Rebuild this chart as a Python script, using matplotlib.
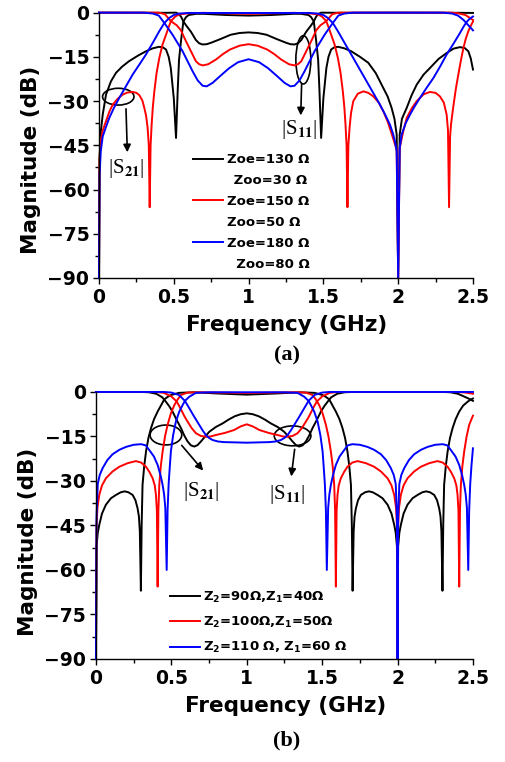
import matplotlib
matplotlib.use('Agg')
import matplotlib.pyplot as plt
from matplotlib.patches import Ellipse
from matplotlib.lines import Line2D
from matplotlib.ticker import MultipleLocator

plt.rcParams['font.family'] = ['DejaVu Sans']
plt.rcParams['font.weight'] = 'bold'
plt.rcParams['mathtext.fontset'] = 'custom'
plt.rcParams['mathtext.rm'] = 'DejaVu Sans:bold'
plt.rcParams['mathtext.bf'] = 'DejaVu Sans:bold'
plt.rcParams['mathtext.it'] = 'DejaVu Sans:bold'

# ---------------- panel (a): Zoe / Zoo ----------------
a_k21_f = [0, .003, .013, .025, .047, .08, .114, .155, .2, .26,
           .314, .36, .40, .425, .448, .466, .48, .50, .515, .526,
           .535, .548, .564, .582, .60, .65, .70, .85, 1.0, 1.15,
           1.30, 1.35, 1.40, 1.418, 1.436, 1.452, 1.465, 1.474, 1.485, 1.50,
           1.52, 1.534, 1.552, 1.575, 1.60, 1.64, 1.686, 1.745, 1.80, 1.85,
           1.90, 1.93, 1.956, 1.975, 1.99, 2.0, 2.01, 2.025, 2.057, 2.09,
           2.124, 2.17, 2.212, 2.27, 2.324, 2.37, 2.413, 2.445, 2.469, 2.485,
           2.50]
a_k21_db = [-90, -50, -40, -34.6, -27.8, -23.3, -20.4, -18.3, -16.5, -14.6,
            -13.1, -12.1, -11.6, -11.7, -12.5, -15, -18.8, -29, -42.5, -26.7,
            -16, -9.7, -3, -1.5, -.8, -.4, -.4, -.8, -1.0, -.8,
            -.4, -.4, -.8, -1.5, -3, -9.7, -16, -26.7, -42.5, -29,
            -18.8, -15, -12.5, -11.7, -11.6, -12.1, -13.1, -15, -17, -20.5,
            -25.5, -28.5, -32.3, -36, -41.4, -90, -41.4, -36, -32.3, -28,
            -24.4, -21, -18.8, -15.7, -13.7, -12.2, -11.7, -12.0, -13.1, -15.5,
            -19.3]

a_k11_f = [0, .45, .515, .535, .55, .564, .585, .615, .648, .67,
           .693, .72, .75, .81, .88, .94, 1.0, 1.06, 1.12, 1.19,
           1.25, 1.28, 1.307, 1.33, 1.352, 1.385, 1.415, 1.436, 1.45, 1.465,
           1.485, 1.6, 2.0, 2.4, 2.5]
a_k11_db = [0, -.05, 0, -.5, -1.5, -3, -4.5, -6.5, -9.3, -10.4,
            -10.8, -10.7, -10.2, -9, -7.5, -6.9, -6.7, -6.9, -7.5, -9,
            -10.2, -10.7, -10.8, -10.4, -9.3, -6.5, -4.5, -3, -1.5, -.5,
            0, -.05, 0, -.05, -.1]

a_r21_f = [0, .004, .01, .025, .047, .07, .092, .125, .158, .19,
           .225, .25, .27, .29, .303, .315, .325, .333, .339, .345,
           .352, .36, .37, .385, .403, .425, .448, .465, .481, .51,
           .537, .60, .70, 1.0, 1.30, 1.40, 1.463, 1.49, 1.519, 1.535,
           1.552, 1.575, 1.597, 1.615, 1.63, 1.64, 1.648, 1.655, 1.661, 1.667,
           1.675, 1.685, 1.70, 1.73, 1.767, 1.80, 1.834, 1.87, 1.90, 1.93,
           1.956, 1.99, 2.0, 2.01, 2.035, 2.057, 2.09, 2.124, 2.17, 2.212,
           2.25, 2.279, 2.305, 2.324, 2.333, 2.34, 2.347, 2.353, 2.368, 2.385,
           2.402, 2.42, 2.436, 2.452, 2.469, 2.485, 2.5]
a_r21_db = [-90, -50, -44, -40, -36.8, -33.5, -31.2, -29.2, -27.8, -27.1,
            -26.9, -27.2, -28, -29.8, -32.3, -35, -39, -45, -66, -45,
            -38, -32, -26.7, -20.5, -15.4, -10.8, -7.5, -5, -2.9, -1.3,
            -.6, -.2, -.07, -.4, -.07, -.2, -.6, -1.3, -2.9, -5,
            -7.5, -10.8, -15.4, -20.5, -26.7, -32, -38, -45, -66, -45,
            -39, -34, -30, -27.5, -26.7, -27.2, -28.4, -30.5, -33.4, -37,
            -41, -46.5, -90, -46, -40, -35.7, -32.5, -30, -27.7, -26.9,
            -27.2, -28.4, -30.5, -34.6, -40, -66, -42, -38, -32, -26,
            -21, -16, -12, -8.8, -6.3, -4.5, -3]

a_r11_f = [0, .40, .44, .481, .52, .548, .575, .604, .648, .67,
           .693, .73, .782, .83, .876, .94, 1.0, 1.06, 1.124, 1.17,
           1.218, 1.27, 1.307, 1.33, 1.352, 1.396, 1.425, 1.452, 1.48, 1.519,
           1.56, 1.60, 2.35, 2.40, 2.45, 2.5]
a_r11_db = [0, 0, -.5, -2.9, -4.3, -6, -9, -12, -16.5, -17.5,
            -17.9, -17.5, -15.9, -14, -12.5, -11.2, -10.7, -11.2, -12.5, -14,
            -15.9, -17.5, -17.9, -17.5, -16.5, -12, -9, -6, -4.3, -2.9,
            -.5, 0, 0, -.2, -.8, -2.5]

a_b21_f = [0, .004, .012, .025, .045, .069, .1, .136, .18, .225,
           .27, .314, .36, .403, .437, .47, .5, .537, .60, 1.0,
           1.40, 1.463, 1.50, 1.53, 1.563, 1.597, 1.65, 1.70, 1.745, 1.789,
           1.833, 1.878, 1.912, 1.945, 1.965, 1.978, 1.99, 2.0, 2.01, 2.023,
           2.05, 2.079, 2.11, 2.146, 2.19, 2.235, 2.28, 2.324, 2.37, 2.413,
           2.44, 2.46, 2.48, 2.5]
a_b21_db = [-90, -55, -47, -42, -39, -35.7, -32.3, -28.9, -25, -21,
            -17.6, -14.2, -10.2, -6.3, -3.5, -1.8, -.8, -.3, -.1, -.12,
            -.1, -.3, -.8, -1.8, -3.5, -6.3, -11, -15.4, -19.4, -23.3,
            -27.2, -31.2, -34.5, -38, -41, -43.6, -47, -90, -46, -41.4,
            -37.5, -34.6, -31.8, -28.9, -25.5, -22.2, -18.3, -14.2, -10.5, -6.9,
            -4.5, -3, -2, -1.3]

a_b11_f = [0, .30, .36, .40, .437, .492, .559, .626, .66, .693,
           .72, .76, .81, .871, .93, 1.0, 1.07, 1.129, 1.19, 1.24,
           1.28, 1.307, 1.34, 1.374, 1.441, 1.508, 1.563, 1.60, 1.64, 1.70,
           2.30, 2.36, 2.40, 2.437, 2.5]
a_b11_db = [0, 0, -.3, -1, -3.5, -7.5, -13.1, -19.9, -23, -24.8,
            -25, -23.8, -21.5, -18.8, -16.8, -15.8, -16.8, -18.8, -21.5, -23.8,
            -25, -24.8, -23, -19.9, -13.1, -7.5, -3.5, -1, -.3, 0,
            0, -.3, -1, -2.5, -6]

a_labels = ['Zoe=130 \u03a9', '\u2002Zoo=30 \u03a9', 'Zoe=150 \u03a9', 'Zoo=50 \u03a9',
            'Zoe=180 \u03a9', '  Zoo=80 \u03a9']

# ---------------- panel (b): Z2 / Z1 ----------------
b_k21_f = [0, .004, .012, .022, .04, .066, .1, .133, .165, .19,
           .215, .243, .262, .276, .285, .291, .298, .303, .309, .32,
           .332, .348, .365, .385, .409, .435, .453, .48, .50, .55,
           .65, .8, 1.0, 1.2, 1.35, 1.45, 1.50, 1.52, 1.547, 1.565,
           1.591, 1.615, 1.635, 1.652, 1.668, 1.68, 1.691, 1.697, 1.702, 1.709,
           1.715, 1.724, 1.738, 1.757, 1.785, 1.81, 1.835, 1.867, 1.90, 1.934,
           1.96, 1.978, 1.988, 1.996, 2.0, 2.004, 2.012, 2.022, 2.04, 2.066,
           2.1, 2.133, 2.165, 2.19, 2.215, 2.243, 2.262, 2.276, 2.285, 2.291,
           2.298, 2.303, 2.309, 2.32, 2.332, 2.348, 2.365, 2.385, 2.409, 2.435,
           2.46, 2.48, 2.5]
b_k21_db = [-90, -52, -47.5, -44.8, -41, -38, -35.8, -34.7, -33.8, -33.5,
            -33.8, -34.7, -36.5, -39.2, -42, -47, -67, -45, -31.3, -25,
            -20.1, -15.5, -12.2, -9.2, -6.6, -4.2, -2.5, -1.5, -1.0, -.3,
            -.1, -.5, -.9, -.5, -.1, -.3, -1.0, -1.5, -2.5, -4.2,
            -6.6, -9.2, -12.2, -15.5, -20.1, -25, -31.3, -45, -67, -47,
            -42, -39.2, -36.5, -34.7, -33.8, -33.5, -33.8, -34.7, -35.8, -38,
            -41, -44.8, -47.5, -52, -90, -52, -47.5, -44.8, -41, -38,
            -35.8, -34.7, -33.8, -33.5, -33.8, -34.7, -36.5, -39.2, -42, -47,
            -67, -45, -31.3, -25, -20.1, -15.5, -12.2, -9.2, -6.6, -4.6,
            -3.5, -2.7, -2.2]

b_k11_f = [0, .30, .35, .40, .44, .464, .486, .508, .536, .564,
           .586, .608, .63, .652, .674, .696, .724, .752, .795, .84,
           .88, .92, .96, 1.0, 1.04, 1.08, 1.12, 1.16, 1.205, 1.248,
           1.276, 1.304, 1.326, 1.348, 1.37, 1.392, 1.414, 1.436, 1.464, 1.492,
           1.514, 1.536, 1.56, 1.60, 1.65, 1.70, 2.30, 2.35, 2.40, 2.44,
           2.47, 2.5]
b_k11_db = [0, 0, -.1, -.6, -1.8, -3.3, -4.8, -6.6, -9.5, -12.2,
            -14.7, -16.7, -18, -18.4, -17.9, -16.7, -15, -13.4, -11.8, -10.6,
            -9.3, -8.2, -7.5, -7.2, -7.5, -8.2, -9.3, -10.6, -11.8, -13.4,
            -15, -16.7, -17.9, -18.4, -18, -16.7, -14.7, -12.2, -9.5, -6.6,
            -4.8, -3.3, -1.8, -.6, -.1, 0, 0, -.1, -.6, -1.5,
            -2.2, -3]

b_r21_f = [0, .004, .01, .022, .04, .066, .11, .155, .21, .265,
           .3, .332, .355, .376, .39, .398, .404, .409, .414, .42,
           .43, .442, .458, .475, .497, .52, .542, .564, .608, .7,
           1.0, 1.3, 1.392, 1.436, 1.458, 1.48, 1.503, 1.525, 1.542, 1.558,
           1.57, 1.58, 1.586, 1.591, 1.596, 1.602, 1.61, 1.624, 1.645, 1.668,
           1.70, 1.735, 1.79, 1.845, 1.89, 1.934, 1.96, 1.978, 1.99, 1.996,
           2.0, 2.004, 2.01, 2.022, 2.04, 2.066, 2.11, 2.155, 2.21, 2.265,
           2.3, 2.332, 2.355, 2.376, 2.39, 2.398, 2.404, 2.409, 2.414, 2.42,
           2.43, 2.442, 2.458, 2.475, 2.5]
b_r21_db = [-90, -45, -39, -34.7, -31.5, -29.1, -26.8, -25.2, -24, -23.3,
            -23.8, -25.2, -27, -29.1, -31.5, -34.7, -40, -65.6, -40, -31.3,
            -25, -20.1, -15, -11.1, -7.2, -4.4, -2.5, -1, -.2, -.1,
            -.35, -.1, -.2, -1, -2.5, -4.4, -7.2, -11.1, -15, -20.1,
            -25, -31.3, -40, -65.6, -40, -34.7, -31.5, -29.1, -27, -25.2,
            -23.8, -23.3, -24, -25.2, -26.8, -29.1, -31.5, -34.7, -39, -45,
            -90, -45, -39, -34.7, -31.5, -29.1, -26.8, -25.2, -24, -23.3,
            -23.8, -25.2, -27, -29.1, -31.5, -34.7, -40, -65.6, -40, -31.3,
            -25, -20.1, -15, -11.1, -8]

b_r11_f = [0, .40, .45, .50, .535, .555, .575, .59, .608, .635,
           .663, .695, .729, .76, .796, .855, .917, .96, 1.0, 1.04,
           1.083, 1.145, 1.204, 1.24, 1.271, 1.305, 1.337, 1.365, 1.392, 1.41,
           1.425, 1.445, 1.465, 1.50, 1.55, 1.60, 2.40, 2.45, 2.5]
b_r11_db = [0, 0, -.3, -1.5, -3.2, -5, -7, -8.5, -10, -12.2,
            -13.9, -14.8, -15.1, -15, -14.5, -13.8, -12.8, -11.6, -10.9, -11.6,
            -12.8, -13.8, -14.5, -15, -15.1, -14.8, -13.9, -12.2, -10, -8.5,
            -7, -5, -3.2, -1.5, -.3, 0, 0, -.2, -.6]

b_b21_f = [0, .004, .012, .025, .044, .075, .11, .155, .2, .25,
           .30, .33, .354, .385, .409, .428, .442, .452, .46, .469,
           .475, .482, .49, .497, .512, .53, .552, .575, .59, .619,
           .663, .75, 1.0, 1.25, 1.337, 1.381, 1.41, 1.425, 1.448, 1.47,
           1.488, 1.503, 1.51, 1.518, 1.525, 1.531, 1.54, 1.548, 1.558, 1.572,
           1.591, 1.615, 1.646, 1.67, 1.70, 1.75, 1.80, 1.845, 1.89, 1.925,
           1.956, 1.975, 1.988, 1.996, 2.0, 2.004, 2.012, 2.025, 2.044, 2.075,
           2.11, 2.155, 2.2, 2.25, 2.30, 2.33, 2.354, 2.385, 2.409, 2.428,
           2.442, 2.452, 2.46, 2.469, 2.475, 2.482, 2.49, 2.5]
b_b21_db = [-90, -42, -31, -28, -25.7, -23, -21, -19.5, -18.5, -17.8,
            -17.6, -18, -19.6, -21.8, -24.6, -28, -31.3, -34.5, -39, -60,
            -40, -31, -25, -20, -14.5, -10, -6.7, -4.4, -3, -1.6,
            -.3, -.1, -.1, -.1, -.3, -1.6, -3, -4.4, -6.7, -10,
            -14.5, -20, -25, -31, -40, -60, -39, -34.5, -31.3, -28,
            -24.6, -21.8, -19.6, -18, -17.6, -17.8, -18.5, -19.5, -21, -23,
            -25.7, -28, -31, -42, -90, -42, -31, -28, -25.7, -23,
            -21, -19.5, -18.5, -17.8, -17.6, -18, -19.6, -21.8, -24.6, -28,
            -31.3, -34.5, -39, -60, -40, -31, -25, -19]

b_b11_f = [0, .45, .50, .55, .59, .619, .65, .685, .708, .729,
           .75, .774, .81, .85, .93, 1.0, 1.07, 1.15, 1.19, 1.226,
           1.25, 1.271, 1.292, 1.315, 1.35, 1.381, 1.41, 1.45, 1.50, 1.55,
           2.5]
b_b11_db = [0, 0, -.2, -1, -3, -5.5, -8.2, -11.1, -13, -14.5,
            -15.5, -16.2, -16.7, -16.9, -17, -17.1, -17, -16.9, -16.7, -16.2,
            -15.5, -14.5, -13, -11.1, -8.2, -5.5, -3, -1, -.2, 0,
            0]

b_labels = ['Z$_{2}$=90\u03a9,Z$_{1}$=40\u03a9', 'Z$_{2}$=100\u03a9,Z$_{1}$=50\u03a9',
            'Z$_{2}$=110 \u03a9, Z$_{1}$=60 \u03a9']

colors = ['black', 'red', 'blue']

fig = plt.figure(figsize=(5.05, 7.62), dpi=100)
ax1 = fig.add_axes([0.196, 0.6352, 0.7406, 0.3482])
ax2 = fig.add_axes([0.190, 0.1352, 0.7465, 0.3504])


def style(ax, ylab_y):
    ax.set_xlim(0, 2.5)
    ax.set_ylim(-90, 0)
    ax.xaxis.set_minor_locator(MultipleLocator(0.25))
    ax.yaxis.set_major_locator(MultipleLocator(15))
    ax.yaxis.set_minor_locator(MultipleLocator(7.5))
    ax.set_xticks([0, 0.5, 1, 1.5, 2, 2.5])
    ax.set_xticklabels(['0', '0.5', '1', '1.5', '2', '2.5'])
    for s in ['top', 'right']:
        ax.spines[s].set_visible(False)
    for s in ['left', 'bottom']:
        ax.spines[s].set_linewidth(1.0)
    ax.tick_params(which='both', direction='out', width=1.0, labelsize=13.5, pad=3)
    ax.tick_params(which='major', length=4)
    ax.tick_params(which='minor', length=3)
    ax.set_xlabel('Frequency (GHz)', fontsize=15.5, fontweight='bold')
    ax.set_ylabel('Magnitude (dB)', fontsize=15.5, fontweight='bold')
    ax.xaxis.set_label_coords(0.503, -0.14)
    ax.yaxis.set_label_coords(-0.155, ylab_y)


def curves(ax, data):
    handles = []
    for c, (f21, d21, f11, d11) in zip(colors, data):
        h, = ax.plot(f21, d21, color=c, lw=1.4, clip_on=False)
        ax.plot(f11, d11, color=c, lw=1.4, clip_on=False)
        handles.append(h)
    return handles


def mark(ax, center, w, h, start, end, text_xy, sub):
    ax.add_patch(Ellipse(center, w, h, fill=False, ec='black', lw=1.2))
    ax.annotate('', xy=end, xytext=start,
                arrowprops=dict(arrowstyle='-|>', color='black', lw=1.2, mutation_scale=11))
    ax.text(text_xy[0], text_xy[1], '|S$_{%s}$|' % sub, family='Liberation Serif', fontweight='normal',
            math_fontfamily='stix', fontsize=15, ha='center', va='center')


# panel (a)
style(ax1, 0.445)
h1 = curves(ax1, [(a_k21_f, a_k21_db, a_k11_f, a_k11_db),
                  (a_r21_f, a_r21_db, a_r11_f, a_r11_db),
                  (a_b21_f, a_b21_db, a_b11_f, a_b11_db)])
blank = Line2D([], [], color='none')
ax1.legend([h1[0], blank, h1[1], blank, h1[2], blank], a_labels, loc='upper left',
           bbox_to_anchor=(0.251, 0.4705), frameon=False, fontsize=9.5, handlelength=2.27,
           handletextpad=0.28, labelspacing=0.6, borderpad=0, borderaxespad=0)
mark(ax1, (0.129, -28.5), 0.21, 5.7, (0.18, -31.7), (0.19, -48.3), (0.185, -53), '21')
mark(ax1, (1.366, -16), 0.1, 16.4, (1.355, -23.4), (1.348, -35.8), (1.335, -39.5), '11')
fig.text(0.568, 1 - 355 / 762, '(a)', family='Liberation Serif', fontweight='bold', fontsize=16,
         ha='center', va='center')

# panel (b)
style(ax2, 0.438)
h2 = curves(ax2, [(b_k21_f, b_k21_db, b_k11_f, b_k11_db),
                  (b_r21_f, b_r21_db, b_r11_f, b_r11_db),
                  (b_b21_f, b_b21_db, b_b11_f, b_b11_db)])
ax2.legend(h2, b_labels, loc='upper left', bbox_to_anchor=(0.196, 0.2605), frameon=False,
           fontsize=9.5, handlelength=2.27, handletextpad=0.25, labelspacing=0.78, borderpad=0,
           borderaxespad=0)
mark(ax2, (0.464, -14.5), 0.21, 6.7, (0.557, -17.3), (0.723, -27.2), (0.70, -33.5), '21')
mark(ax2, (1.304, -14.8), 0.243, 6.7, (1.32, -18.4), (1.293, -29.4), (1.265, -34.5), '11')
fig.text(0.568, 1 - 740 / 762, '(b)', family='Liberation Serif', fontweight='bold', fontsize=16,
         ha='center', va='center')

fig.savefig('out.png', dpi=100)
